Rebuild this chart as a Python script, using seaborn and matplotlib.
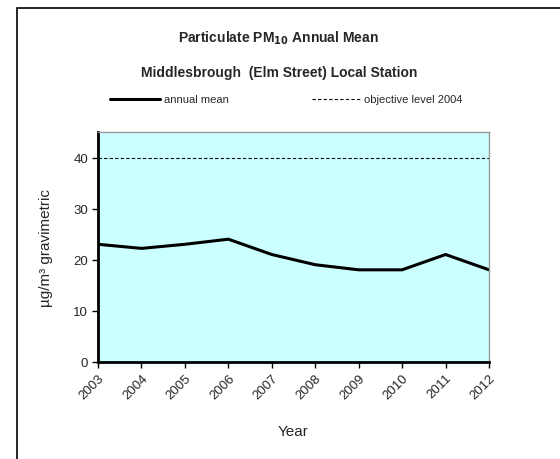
import matplotlib
matplotlib.use("Agg")
import matplotlib.pyplot as plt
import seaborn as sns
import pandas as pd
from matplotlib.patches import Rectangle
from matplotlib.lines import Line2D

years = [2003, 2004, 2005, 2006, 2007, 2008, 2009, 2010, 2011, 2012]
annual_mean = [23, 22.2, 23, 24, 21, 19, 18, 18, 21, 18]
objective_level = 40
y_ticks = [0, 10, 20, 30, 40]

sns.set_style("white")
plt.rcParams["font.family"] = ["Liberation Sans", "DejaVu Sans"]

df = pd.DataFrame({"Year": years, "annual mean": annual_mean})

fig = plt.figure(figsize=(5.6, 4.6), dpi=100)
ax = fig.add_axes([98 / 560, 1 - 362.7 / 460, (489 - 98) / 560, (362.7 - 133) / 460])
ax.set_facecolor("#CCFFFF")

sns.lineplot(data=df, x="Year", y="annual mean", ax=ax, color="black", linewidth=2.2)
ax.axhline(objective_level, color="black", linestyle=(0, (3, 2)), linewidth=0.8)

ax.set_xlim(years[0], years[-1])
ax.set_ylim(0, 45)
ax.set_yticks(y_ticks)
ax.set_xticks(years)
ax.set_xticklabels([str(y) for y in years], rotation=45, ha="right",
                   rotation_mode="anchor", fontsize=9.5)
ax.tick_params(axis="y", labelsize=9.5)
ax.tick_params(axis="both", direction="out", length=4, width=1, color="black",
               left=True, bottom=True, pad=3)
ax.set_xlabel("Year", fontsize=11, labelpad=17)
ax.set_ylabel("µg/m³ gravimetric", fontsize=11, labelpad=15)

for side in ("left", "bottom"):
    ax.spines[side].set_color("black")
    ax.spines[side].set_linewidth(2)
for side in ("top", "right"):
    ax.spines[side].set_color("#999999")
    ax.spines[side].set_linewidth(1)

# Titles
fig.text(279 / 560, 1 - 38 / 460, r"Particulate PM$_{\mathbf{10}}$ Annual Mean",
         ha="center", va="center", fontsize=10, fontweight="bold")
fig.text(279 / 560, 1 - 73 / 460, "Middlesbrough  (Elm Street) Local Station",
         ha="center", va="center", fontsize=10, fontweight="bold")

# Legend row
ly = 1 - 100 / 460
fig.add_artist(Line2D([110 / 560, 160 / 560], [ly, ly], color="black", linewidth=2.2))
fig.text(164 / 560, ly, "annual mean", ha="left", va="center", fontsize=8)
fig.add_artist(Line2D([312 / 560, 360 / 560], [ly, ly], color="black", linewidth=0.8,
                      linestyle=(0, (3, 2))))
fig.text(364 / 560, ly, "objective level 2004", ha="left", va="center", fontsize=8)

# Outer chart frame
fig.add_artist(Rectangle((17 / 560, -0.1), 1.2, 1 - 9 / 460 + 0.1,
                         transform=fig.transFigure, fill=False,
                         edgecolor="black", linewidth=1.2))

fig.savefig("out.png", dpi=100)
